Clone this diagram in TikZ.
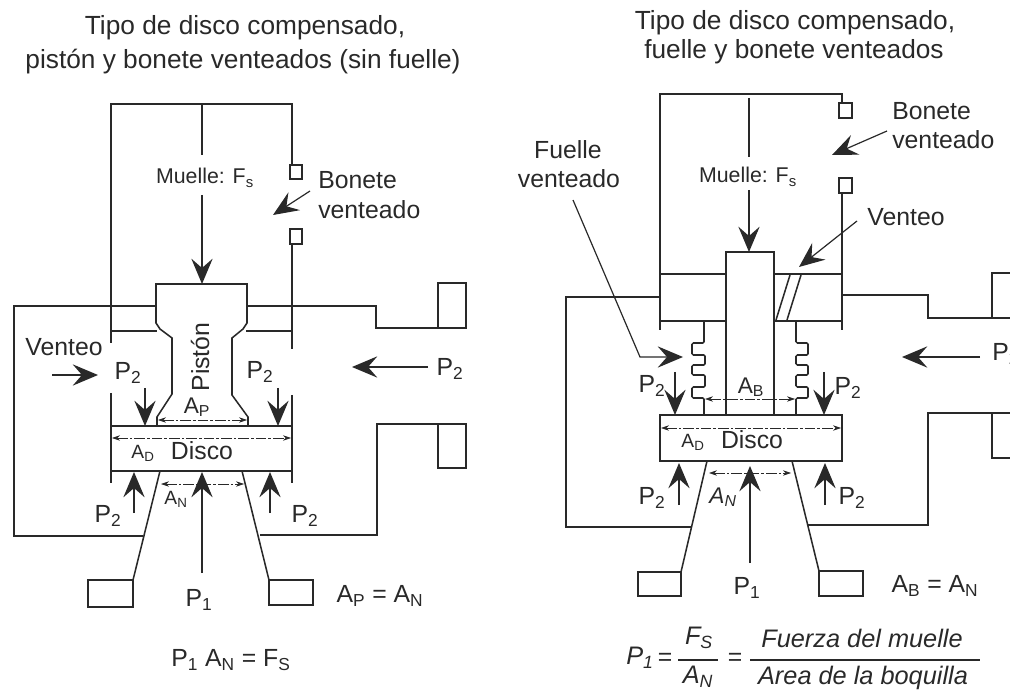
\documentclass[tikz,border=0pt]{standalone}
\usepackage{fontspec}
\setmainfont{Liberation Sans}
\usetikzlibrary{arrows.meta}

\definecolor{tinta}{rgb}{0.16,0.16,0.16}
\tikzset{
    linea/.style={draw=tinta,line width=1.15pt},
    flecha/.style={draw=tinta,line width=0.9pt,-{Stealth[length=19pt,width=16pt,inset=7pt]}},
    cota/.style={draw=tinta,line width=0.45pt,dash pattern=on 8pt off 1.5pt on 2pt off 1.5pt,{Stealth[length=6pt,width=4pt]}-{Stealth[length=6pt,width=4pt]}},
    titulo/.style={text=tinta,font=\fontsize{19.7}{22}\selectfont,inner sep=0pt},
    rotulo/.style={text=tinta,font=\fontsize{18.6}{22}\selectfont,inner sep=0pt},
    muelle/.style={text=tinta,font=\fontsize{16}{19}\selectfont,inner sep=0pt},
    chico/.style={text=tinta,font=\fontsize{14.4}{17}\selectfont,inner sep=0pt},
    formula/.style={text=tinta,font=\fontsize{19}{22}\itshape,inner sep=0pt},
}

\begin{document}
\begin{tikzpicture}[x=0.75pt,y=0.75pt,yscale=-1,xscale=1]
    \useasboundingbox (0,0) rectangle (1010,691);
    \clip (0,0) rectangle (1010,691);

    %%% LEFT VALVE
    %Bonnet
    \draw [linea] (111,343) -- (111,104) -- (292,104) -- (292,165) ;
    \draw [linea] (292,244) -- (292,349) ;
    \draw [linea] (111,393) -- (111,483) ;
    \draw [linea] (292,395) -- (292,483) ;
    \draw [linea] (290,165) rectangle (302,179) ;
    \draw [linea] (290,229) rectangle (302,244) ;
    \draw [linea] (111,331) -- (157,331) ;
    \draw [linea] (292,331) -- (246,331) ;
    %Piston
    \draw [linea] (157,426) -- (157,417) -- (172,394) -- (172,338) -- (160,329) -- (156,323) -- (156,284) -- (247,284) -- (247,323) -- (243,329) -- (232,338) -- (232,395) -- (248,417) -- (248,426) ;
    %Disc
    \draw [linea] (111,426) rectangle (292,471) ;
    %Body
    \draw [linea] (156,306) -- (14,306) -- (14,536) -- (143,536) ;
    \draw [linea] (247,306) -- (376,306) -- (376,328) -- (466,328) -- (466,283) -- (438,283) -- (438,328) ;
    \draw [linea] (260,535) -- (377,535) -- (377,424) -- (466,424) -- (466,468) -- (438,468) -- (438,424) ;
    %Nozzle
    \draw [linea] (160,471) -- (133,580) ;
    \draw [linea] (88,580) rectangle (133,607) ;
    \draw [linea] (242,471) -- (269,580) ;
    \draw [linea] (269,580) rectangle (313,605) ;

    %Spring and pressures
    \draw [linea] (202,104) -- (202,155) ;
    \draw [flecha] (202,195) -- (202,284) ;
    \draw [flecha] (202,573) -- (202,472) ;
    \draw [flecha] (134,513) -- (134,472) ;
    \draw [flecha] (270,513) -- (270,472) ;
    \draw [flecha] (145,388) -- (145,426) ;
    \draw [flecha] (278,388) -- (278,426) ;
    \draw [flecha] (52,375) -- (98,375) ;
    \draw [flecha] (428,367) -- (352,367) ;
    \draw [flecha] (310,191) -- (273,215) ;
    %Areas
    \draw [cota] (158,420) -- (247,420) ;
    \draw [cota] (112,438) -- (291,438) ;
    \draw [cota] (161,484) -- (244,484) ;

    % Text Node
    \draw (245,28) node (tituloA) [titulo] {Tipo de disco compensado,};
    % Text Node
    \draw (243,62) node (subtituloA) [titulo] {pistón y bonete venteados (sin fuelle)};
    % Text Node
    \draw (205,178) node (muelleA) [muelle] {Muelle: F\textsubscript{s}};
    % Text Node
    \draw (318,180) node (boneteA) [rotulo,anchor=west] {Bonete};
    % Text Node
    \draw (318,210) node (venteadoA) [rotulo,anchor=west] {venteado};
    % Text Node
    \draw (64,347) node (venteoA) [rotulo] {Venteo};
    % Text Node
    \draw (200,357) node (piston) [rotulo,rotate=90] {Pistón};
    % Text Node
    \draw (128,373) node (pdosA) [rotulo] {P\textsubscript{2}};
    % Text Node
    \draw (260,372) node (pdosB) [rotulo] {P\textsubscript{2}};
    % Text Node
    \draw (450,369) node (pdosC) [rotulo] {P\textsubscript{2}};
    % Text Node
    \draw (197,407) node (areaP) [rotulo,font=\fontsize{17}{20}\selectfont] {A\textsubscript{P}};
    % Text Node
    \draw (143,453) node (areaDA) [chico] {A\textsubscript{D}};
    % Text Node
    \draw (202,451) node (discoA) [rotulo] {Disco};
    % Text Node
    \draw (176,499) node (areaNA) [chico] {A\textsubscript{N}};
    % Text Node
    \draw (108,516) node (pdosD) [rotulo] {P\textsubscript{2}};
    % Text Node
    \draw (305,516) node (pdosE) [rotulo] {P\textsubscript{2}};
    % Text Node
    \draw (199,600) node (punoA) [rotulo] {P\textsubscript{1}};
    % Text Node
    \draw (380,596) node (igualA) [rotulo] {A\textsubscript{P} = A\textsubscript{N}};
    % Text Node
    \draw (231,660) node (formulaA) [rotulo] {P\textsubscript{1} A\textsubscript{N} = F\textsubscript{S}};

    %%% RIGHT VALVE
    %Bonnet
    \draw [linea] (660,330) -- (660,94) -- (842,94) -- (842,103) ;
    \draw [linea] (842,193) -- (842,330) ;
    \draw [linea] (839,103) rectangle (852,118) ;
    \draw [linea] (839,178) rectangle (852,193) ;
    \draw [linea] (660,274) -- (726,274) ;
    \draw [linea] (774,274) -- (842,274) ;
    \draw [linea] (660,321) -- (726,321) ;
    \draw [linea] (774,321) -- (842,321) ;
    %Vent
    \draw [linea] (790,275) -- (776,320) ;
    \draw [linea] (801,275) -- (787,320) ;
    %Stem
    \draw [linea] (726,415) -- (726,252) -- (774,252) -- (774,415) ;
    %Bellows
    \draw [linea,rounded corners=1pt] (704,321) -- (704,343) -- (692,343) -- (692,355) -- (705,355) -- (705,365) -- (692,365) -- (692,375) -- (705,375) -- (705,387) -- (692,387) -- (692,398) -- (704,398) -- (704,415) ;
    \draw [linea,rounded corners=1pt] (796,321) -- (796,343) -- (808,343) -- (808,355) -- (796,355) -- (796,365) -- (808,365) -- (808,375) -- (796,375) -- (796,387) -- (808,387) -- (808,398) -- (796,398) -- (796,415) ;
    %Disc
    \draw [linea] (660,415) rectangle (842,461) ;
    %Body
    \draw [linea] (660,297) -- (566,297) -- (566,527) -- (692,527) ;
    \draw [linea] (842,295) -- (928,295) -- (928,318) -- (1012,318) ;
    \draw [linea] (992,318) -- (992,273) -- (1012,273) ;
    \draw [linea] (808,525) -- (928,525) -- (928,413) -- (1012,413) ;
    \draw [linea] (992,413) -- (992,458) -- (1012,458) ;
    %Nozzle
    \draw [linea] (707,461) -- (681,572) ;
    \draw [linea] (638,572) rectangle (681,596) ;
    \draw [linea] (792,461) -- (819,571) ;
    \draw [linea] (819,571) rectangle (863,596) ;

    %Spring and pressures
    \draw [linea,line width=0.8pt] (749,98) -- (749,157) ;
    \draw [flecha] (749,190) -- (749,252) ;
    \draw [flecha] (750,563) -- (750,466) ;
    \draw [flecha] (679,505) -- (679,463) ;
    \draw [flecha] (825,505) -- (825,463) ;
    \draw [flecha] (675,372) -- (675,415) ;
    \draw [flecha] (824,372) -- (824,415) ;
    \draw [flecha] (980,357) -- (902,357) ;
    \draw [flecha] (887,131) -- (832,155) ;
    \draw [flecha] (857,221) -- (799,267) ;
    \draw [flecha] (573,200) -- (640,357) -- (683,357) ;
    %Areas
    \draw [cota] (705,399) -- (795,399) ;
    \draw [cota] (661,428) -- (841,428) ;
    \draw [cota] (709,473) -- (791,473) ;

    % Text Node
    \draw (795,23) node (tituloB) [titulo] {Tipo de disco compensado,};
    % Text Node
    \draw (794,52) node (subtituloB) [titulo] {fuelle y bonete venteados};
    % Text Node
    \draw (892,111) node (boneteB) [rotulo,anchor=west] {Bonete};
    % Text Node
    \draw (892,140) node (venteadoB) [rotulo,anchor=west] {venteado};
    % Text Node
    \draw (568,150) node (fuelle) [rotulo] {Fuelle};
    % Text Node
    \draw (569,179) node (venteadoC) [rotulo] {venteado};
    % Text Node
    \draw (748,177) node (muelleB) [muelle] {Muelle: F\textsubscript{s}};
    % Text Node
    \draw (906,217) node (venteoB) [rotulo] {Venteo};
    % Text Node
    \draw (992,354) node (pdosF) [rotulo,anchor=west] {P\textsubscript{2}};
    % Text Node
    \draw (751,387) node (areaB) [rotulo,font=\fontsize{17}{20}\selectfont] {A\textsubscript{B}};
    % Text Node
    \draw (652,386) node (pdosG) [rotulo] {P\textsubscript{2}};
    % Text Node
    \draw (848,388) node (pdosH) [rotulo] {P\textsubscript{2}};
    % Text Node
    \draw (693,442) node (areaDB) [chico] {A\textsubscript{D}};
    % Text Node
    \draw (752,440) node (discoB) [rotulo] {Disco};
    % Text Node
    \draw (723,497) node (areaNB) [formula,font=\fontsize{17}{20}\itshape] {A\textsubscript{N}};
    % Text Node
    \draw (652,498) node (pdosJ) [rotulo] {P\textsubscript{2}};
    % Text Node
    \draw (852,498) node (pdosK) [rotulo] {P\textsubscript{2}};
    % Text Node
    \draw (747,588) node (punoB) [rotulo] {P\textsubscript{1}};
    % Text Node
    \draw (935,586) node (igualB) [rotulo] {A\textsubscript{B} = A\textsubscript{N}};
    % Text Node
    \draw (640,658) node (puno) [formula] {P\textsubscript{1}};
    % Text Node
    \draw (665,659) node (igualC) [rotulo] {=};
    % Text Node
    \draw (699,638) node (fracF) [formula] {F\textsubscript{S}};
    % Text Node
    \draw (698,677) node (fracA) [formula] {A\textsubscript{N}};
    % Text Node
    \draw (735,659) node (igualD) [rotulo] {=};
    % Text Node
    \draw (862,638) node (fuerza) [formula] {Fuerza del muelle};
    % Text Node
    \draw (863,678) node (area) [formula] {Area de la boquilla};
    \draw [linea] (678,660) -- (718,660) ;
    \draw [linea] (750,660) -- (980,660) ;
\end{tikzpicture}
\end{document}
